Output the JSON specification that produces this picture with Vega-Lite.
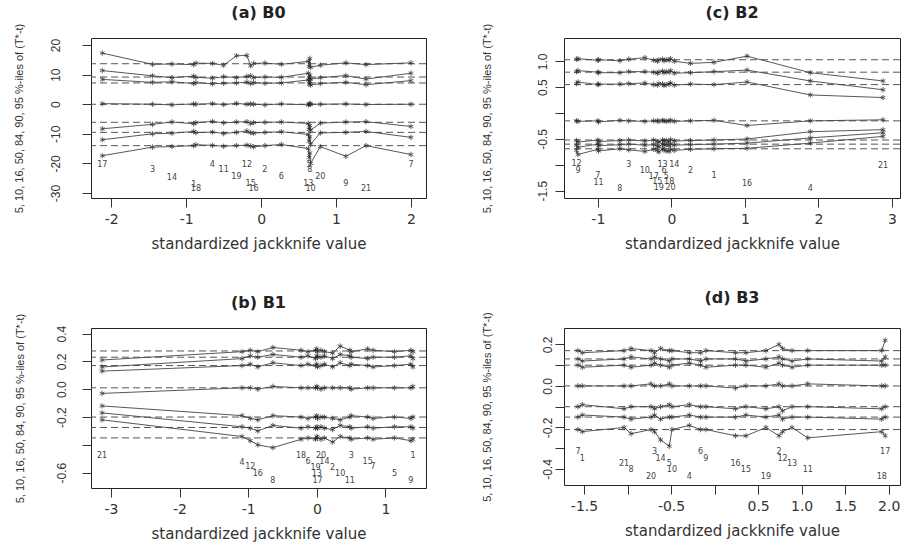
{
  "$schema": "https://vega.github.io/schema/vega-lite/v6.json",
  "background": "white",
  "padding": {"left": 12, "top": 4, "right": 0, "bottom": 0},
  "columns": 2,
  "spacing": {"row": 37, "column": 53},
  "concat": [
    {
      "width": 335, "height": 160,
      "title": {"text": "(a) B0"},
      "data": {"values": [
        {"id":"17","x":-2.12,"ly":-20.6,"q05":-17.4,"q10":-12.0,"q16":-8.3,"q50":0.2,"q84":8.4,"q90":11.4,"q95":17.3},
        {"id":"3","x":-1.45,"ly":-22.3,"q05":-14.5,"q10":-10.0,"q16":-6.8,"q50":0.0,"q84":7.4,"q90":9.6,"q95":13.5},
        {"id":"14","x":-1.19,"ly":-24.8,"q05":-14.3,"q10":-9.8,"q16":-6.0,"q50":-0.2,"q84":7.6,"q90":9.0,"q95":13.6},
        {"id":"1","x":-0.90,"ly":-27.2,"q05":-14.0,"q10":-9.2,"q16":-6.6,"q50":0.1,"q84":7.0,"q90":9.5,"q95":13.4},
        {"id":"18","x":-0.87,"ly":-28.8,"q05":-13.7,"q10":-9.6,"q16":-6.2,"q50":0.0,"q84":7.3,"q90":9.1,"q95":13.9},
        {"id":"4","x":-0.65,"ly":-20.5,"q05":-13.9,"q10":-9.4,"q16":-5.8,"q50":0.2,"q84":6.9,"q90":8.8,"q95":13.8},
        {"id":"11","x":-0.50,"ly":-22.3,"q05":-14.2,"q10":-9.9,"q16":-6.3,"q50":-0.1,"q84":7.1,"q90":9.3,"q95":13.2},
        {"id":"19","x":-0.33,"ly":-24.5,"q05":-14.0,"q10":-9.5,"q16":-6.0,"q50":0.3,"q84":7.2,"q90":9.0,"q95":16.4},
        {"id":"12","x":-0.19,"ly":-20.6,"q05":-13.8,"q10":-9.0,"q16":-5.9,"q50":0.0,"q84":7.5,"q90":9.4,"q95":16.5},
        {"id":"15","x":-0.14,"ly":-26.8,"q05":-14.1,"q10":-9.6,"q16":-6.5,"q50":0.1,"q84":7.0,"q90":9.6,"q95":13.0},
        {"id":"16","x":-0.10,"ly":-28.8,"q05":-14.4,"q10":-9.8,"q16":-6.2,"q50":0.0,"q84":7.3,"q90":9.0,"q95":13.8},
        {"id":"2","x":0.05,"ly":-22.3,"q05":-14.0,"q10":-9.5,"q16":-6.1,"q50":-0.2,"q84":7.1,"q90":9.2,"q95":13.9},
        {"id":"6","x":0.27,"ly":-24.6,"q05":-13.6,"q10":-9.3,"q16":-6.0,"q50":0.1,"q84":7.2,"q90":9.1,"q95":13.5},
        {"id":"13","x":0.63,"ly":-26.8,"q05":-15.0,"q10":-10.2,"q16":-6.5,"q50":-0.2,"q84":8.2,"q90":10.5,"q95":14.5},
        {"id":"5","x":0.64,"ly":-20.5,"q05":-18.0,"q10":-12.5,"q16":-8.5,"q50":0.0,"q84":6.8,"q90":8.8,"q95":12.8},
        {"id":"8","x":0.65,"ly":-22.3,"q05":-16.5,"q10":-11.0,"q16":-7.2,"q50":0.2,"q84":7.8,"q90":9.9,"q95":15.5},
        {"id":"10","x":0.66,"ly":-28.8,"q05":-20.0,"q10":-13.5,"q16":-8.8,"q50":0.0,"q84":6.5,"q90":8.5,"q95":12.5},
        {"id":"20","x":0.79,"ly":-24.6,"q05":-14.3,"q10":-9.7,"q16":-6.4,"q50":0.0,"q84":7.0,"q90":9.0,"q95":13.2},
        {"id":"9","x":1.13,"ly":-26.8,"q05":-17.6,"q10":-9.5,"q16":-6.0,"q50":0.1,"q84":7.4,"q90":9.7,"q95":14.0},
        {"id":"21","x":1.40,"ly":-28.8,"q05":-14.0,"q10":-9.2,"q16":-5.9,"q50":-0.1,"q84":6.6,"q90":8.5,"q95":13.4},
        {"id":"7","x":2.00,"ly":-20.5,"q05":-17.0,"q10":-11.2,"q16":-7.5,"q50":0.0,"q84":8.0,"q90":10.5,"q95":14.0}
      ]},
      "layer": [
        {
          "data": {"values": [{"lv":13.7},{"lv":9.2},{"lv":7.2},{"lv":0},{"lv":-6.1},{"lv":-9.5},{"lv":-14.0}]},
          "mark": {"type": "rule", "strokeDash": [7, 4], "color": "#555", "strokeWidth": 1},
          "encoding": {"y": {"field": "lv", "type": "quantitative", "title": "5, 10, 16, 50, 84, 90, 95 %-iles of (T*-t)", "scale": {"domain": [-31.7, 22.4], "nice": false, "zero": false}, "axis": {"values": [-30,-20,-10,0,10,20], "format": "d", "labelExpr": "replace(datum.label,'−','-')", "labelAngle": -90, "labelAlign": "center", "labelBaseline": "bottom", "labelOverlap": false, "labelPadding": 20, "titlePadding": 25}}}
        },
        {
          "transform": [{"fold": ["q05","q10","q16","q50","q84","q90","q95"], "as": ["pct","val"]}],
          "mark": {"type": "line", "color": "#444", "strokeWidth": 0.9},
          "encoding": {
            "x": {"field": "x", "type": "quantitative", "title": "standardized jackknife value", "scale": {"domain": [-2.27, 2.2], "nice": false, "zero": false}, "axis": {"values": [-2,-1,0,1,2], "format": "d", "labelExpr": "replace(datum.label,'−','-')"}},
            "y": {"field": "val", "type": "quantitative", "title": "5, 10, 16, 50, 84, 90, 95 %-iles of (T*-t)", "scale": {"domain": [-31.7, 22.4], "nice": false, "zero": false}, "axis": {"values": [-30,-20,-10,0,10,20], "format": "d", "labelExpr": "replace(datum.label,'−','-')", "labelAngle": -90, "labelAlign": "center", "labelBaseline": "bottom", "labelOverlap": false, "labelPadding": 20, "titlePadding": 25}},
            "detail": {"field": "pct"}
          }
        },
        {
          "transform": [{"fold": ["q05","q10","q16","q50","q84","q90","q95"], "as": ["pct","val"]}],
          "mark": {"type": "point", "shape": "M0,-1L0,1M-0.87,-0.5L0.87,0.5M-0.87,0.5L0.87,-0.5", "filled": false, "size": 30, "strokeWidth": 1, "color": "#222"},
          "encoding": {
            "x": {"field": "x", "type": "quantitative", "title": "standardized jackknife value", "scale": {"domain": [-2.27, 2.2], "nice": false, "zero": false}, "axis": {"values": [-2,-1,0,1,2], "format": "d", "labelExpr": "replace(datum.label,'−','-')"}},
            "y": {"field": "val", "type": "quantitative", "title": "5, 10, 16, 50, 84, 90, 95 %-iles of (T*-t)", "scale": {"domain": [-31.7, 22.4], "nice": false, "zero": false}, "axis": {"values": [-30,-20,-10,0,10,20], "format": "d", "labelExpr": "replace(datum.label,'−','-')", "labelAngle": -90, "labelAlign": "center", "labelBaseline": "bottom", "labelOverlap": false, "labelPadding": 20, "titlePadding": 25}}
          }
        },
        {
          "mark": {"type": "text", "font": "DejaVu Sans", "fontSize": 8, "color": "#444"},
          "encoding": {
            "x": {"field": "x", "type": "quantitative", "title": "standardized jackknife value", "scale": {"domain": [-2.27, 2.2], "nice": false, "zero": false}, "axis": {"values": [-2,-1,0,1,2], "format": "d", "labelExpr": "replace(datum.label,'−','-')"}},
            "y": {"field": "ly", "type": "quantitative", "title": "5, 10, 16, 50, 84, 90, 95 %-iles of (T*-t)", "scale": {"domain": [-31.7, 22.4], "nice": false, "zero": false}, "axis": {"values": [-30,-20,-10,0,10,20], "format": "d", "labelExpr": "replace(datum.label,'−','-')", "labelAngle": -90, "labelAlign": "center", "labelBaseline": "bottom", "labelOverlap": false, "labelPadding": 20, "titlePadding": 25}},
            "text": {"field": "id"}
          }
        }
      ]
    },
    {
      "width": 336, "height": 160,
      "title": {"text": "(c) B2"},
      "data": {"values": [
        {"id":"12","x":-1.29,"ly":-0.98,"q05":-0.72,"q10":-0.62,"q16":-0.53,"q50":-0.15,"q84":0.57,"q90":0.80,"q95":1.04},
        {"id":"9","x":-1.27,"ly":-1.12,"q05":-0.80,"q10":-0.66,"q16":-0.56,"q50":-0.16,"q84":0.60,"q90":0.82,"q95":1.05},
        {"id":"7","x":-1.00,"ly":-1.22,"q05":-0.70,"q10":-0.60,"q16":-0.52,"q50":-0.15,"q84":0.55,"q90":0.79,"q95":1.02},
        {"id":"11","x":-0.99,"ly":-1.35,"q05":-0.73,"q10":-0.63,"q16":-0.55,"q50":-0.17,"q84":0.56,"q90":0.78,"q95":1.03},
        {"id":"8","x":-0.70,"ly":-1.46,"q05":-0.69,"q10":-0.61,"q16":-0.53,"q50":-0.14,"q84":0.56,"q90":0.78,"q95":1.01},
        {"id":"3","x":-0.58,"ly":-1.00,"q05":-0.71,"q10":-0.60,"q16":-0.52,"q50":-0.15,"q84":0.57,"q90":0.80,"q95":1.04},
        {"id":"10","x":-0.36,"ly":-1.12,"q05":-0.74,"q10":-0.62,"q16":-0.54,"q50":-0.16,"q84":0.58,"q90":0.80,"q95":1.07},
        {"id":"17","x":-0.24,"ly":-1.23,"q05":-0.70,"q10":-0.61,"q16":-0.52,"q50":-0.15,"q84":0.55,"q90":0.79,"q95":1.02},
        {"id":"15","x":-0.19,"ly":-1.34,"q05":-0.72,"q10":-0.64,"q16":-0.55,"q50":-0.15,"q84":0.54,"q90":0.77,"q95":1.00},
        {"id":"19","x":-0.17,"ly":-1.45,"q05":-0.75,"q10":-0.65,"q16":-0.56,"q50":-0.16,"q84":0.57,"q90":0.79,"q95":1.03},
        {"id":"13","x":-0.12,"ly":-1.00,"q05":-0.69,"q10":-0.60,"q16":-0.52,"q50":-0.14,"q84":0.56,"q90":0.81,"q95":1.04},
        {"id":"6","x":-0.10,"ly":-1.12,"q05":-0.71,"q10":-0.62,"q16":-0.54,"q50":-0.15,"q84":0.53,"q90":0.78,"q95":1.01},
        {"id":"5","x":-0.07,"ly":-1.23,"q05":-0.73,"q10":-0.61,"q16":-0.53,"q50":-0.16,"q84":0.55,"q90":0.80,"q95":1.03},
        {"id":"18","x":-0.03,"ly":-1.34,"q05":-0.74,"q10":-0.63,"q16":-0.55,"q50":-0.15,"q84":0.56,"q90":0.79,"q95":1.02},
        {"id":"20","x":-0.01,"ly":-1.45,"q05":-0.70,"q10":-0.60,"q16":-0.51,"q50":-0.14,"q84":0.58,"q90":0.82,"q95":1.05},
        {"id":"14","x":0.04,"ly":-1.00,"q05":-0.72,"q10":-0.62,"q16":-0.54,"q50":-0.16,"q84":0.54,"q90":0.77,"q95":1.00},
        {"id":"2","x":0.26,"ly":-1.11,"q05":-0.70,"q10":-0.61,"q16":-0.53,"q50":-0.15,"q84":0.56,"q90":0.78,"q95":0.96},
        {"id":"1","x":0.58,"ly":-1.22,"q05":-0.69,"q10":-0.60,"q16":-0.52,"q50":-0.14,"q84":0.55,"q90":0.80,"q95":0.98},
        {"id":"16","x":1.03,"ly":-1.36,"q05":-0.68,"q10":-0.58,"q16":-0.50,"q50":-0.24,"q84":0.60,"q90":0.83,"q95":1.10},
        {"id":"4","x":1.89,"ly":-1.47,"q05":-0.58,"q10":-0.48,"q16":-0.36,"q50":-0.15,"q84":0.35,"q90":0.62,"q95":0.78},
        {"id":"21","x":2.88,"ly":-1.02,"q05":-0.45,"q10":-0.38,"q16":-0.32,"q50":-0.13,"q84":0.30,"q90":0.45,"q95":0.62}
      ]},
      "layer": [
        {
          "data": {"values": [{"lv":1.03},{"lv":0.79},{"lv":0.55},{"lv":-0.15},{"lv":-0.52},{"lv":-0.60},{"lv":-0.69}]},
          "mark": {"type": "rule", "strokeDash": [7, 4], "color": "#555", "strokeWidth": 1},
          "encoding": {"y": {"field": "lv", "type": "quantitative", "title": "5, 10, 16, 50, 84, 90, 95 %-iles of (T*-t)", "scale": {"domain": [-1.64, 1.45], "nice": false, "zero": false}, "axis": {"values": [-1.5,-1,-0.5,0,0.5,1], "format": ".1f", "labelExpr": "datum.value == 0 || datum.value == -1 ? '' : replace(datum.label,'−','-')", "labelAngle": -90, "labelAlign": "center", "labelBaseline": "bottom", "labelOverlap": false, "labelPadding": 6, "titlePadding": 44}}}
        },
        {
          "transform": [{"fold": ["q05","q10","q16","q50","q84","q90","q95"], "as": ["pct","val"]}],
          "mark": {"type": "line", "color": "#444", "strokeWidth": 0.9},
          "encoding": {
            "x": {"field": "x", "type": "quantitative", "title": "standardized jackknife value", "scale": {"domain": [-1.46, 3.11], "nice": false, "zero": false}, "axis": {"values": [-1,0,1,2,3], "format": "d", "labelExpr": "replace(datum.label,'−','-')"}},
            "y": {"field": "val", "type": "quantitative", "title": "5, 10, 16, 50, 84, 90, 95 %-iles of (T*-t)", "scale": {"domain": [-1.64, 1.45], "nice": false, "zero": false}, "axis": {"values": [-1.5,-1,-0.5,0,0.5,1], "format": ".1f", "labelExpr": "datum.value == 0 || datum.value == -1 ? '' : replace(datum.label,'−','-')", "labelAngle": -90, "labelAlign": "center", "labelBaseline": "bottom", "labelOverlap": false, "labelPadding": 6, "titlePadding": 44}},
            "detail": {"field": "pct"}
          }
        },
        {
          "transform": [{"fold": ["q05","q10","q16","q50","q84","q90","q95"], "as": ["pct","val"]}],
          "mark": {"type": "point", "shape": "M0,-1L0,1M-0.87,-0.5L0.87,0.5M-0.87,0.5L0.87,-0.5", "filled": false, "size": 30, "strokeWidth": 1, "color": "#222"},
          "encoding": {
            "x": {"field": "x", "type": "quantitative", "title": "standardized jackknife value", "scale": {"domain": [-1.46, 3.11], "nice": false, "zero": false}, "axis": {"values": [-1,0,1,2,3], "format": "d", "labelExpr": "replace(datum.label,'−','-')"}},
            "y": {"field": "val", "type": "quantitative", "title": "5, 10, 16, 50, 84, 90, 95 %-iles of (T*-t)", "scale": {"domain": [-1.64, 1.45], "nice": false, "zero": false}, "axis": {"values": [-1.5,-1,-0.5,0,0.5,1], "format": ".1f", "labelExpr": "datum.value == 0 || datum.value == -1 ? '' : replace(datum.label,'−','-')", "labelAngle": -90, "labelAlign": "center", "labelBaseline": "bottom", "labelOverlap": false, "labelPadding": 6, "titlePadding": 44}}
          }
        },
        {
          "mark": {"type": "text", "font": "DejaVu Sans", "fontSize": 8, "color": "#444"},
          "encoding": {
            "x": {"field": "x", "type": "quantitative", "title": "standardized jackknife value", "scale": {"domain": [-1.46, 3.11], "nice": false, "zero": false}, "axis": {"values": [-1,0,1,2,3], "format": "d", "labelExpr": "replace(datum.label,'−','-')"}},
            "y": {"field": "ly", "type": "quantitative", "title": "5, 10, 16, 50, 84, 90, 95 %-iles of (T*-t)", "scale": {"domain": [-1.64, 1.45], "nice": false, "zero": false}, "axis": {"values": [-1.5,-1,-0.5,0,0.5,1], "format": ".1f", "labelExpr": "datum.value == 0 || datum.value == -1 ? '' : replace(datum.label,'−','-')", "labelAngle": -90, "labelAlign": "center", "labelBaseline": "bottom", "labelOverlap": false, "labelPadding": 6, "titlePadding": 44}},
            "text": {"field": "id"}
          }
        }
      ]
    },
    {
      "width": 335, "height": 160,
      "title": {"text": "(b) B1"},
      "data": {"values": [
        {"id":"21","x":-3.13,"ly":-0.483,"q05":-0.22,"q10":-0.17,"q16":-0.12,"q50":-0.03,"q84":0.13,"q90":0.16,"q95":0.21},
        {"id":"4","x":-1.09,"ly":-0.533,"q05":-0.34,"q10":-0.27,"q16":-0.19,"q50":0.01,"q84":0.17,"q90":0.22,"q95":0.27},
        {"id":"12","x":-0.97,"ly":-0.562,"q05":-0.37,"q10":-0.28,"q16":-0.21,"q50":0.01,"q84":0.18,"q90":0.24,"q95":0.28},
        {"id":"16","x":-0.86,"ly":-0.61,"q05":-0.40,"q10":-0.30,"q16":-0.22,"q50":0.00,"q84":0.16,"q90":0.23,"q95":0.27},
        {"id":"8","x":-0.64,"ly":-0.66,"q05":-0.42,"q10":-0.26,"q16":-0.19,"q50":0.02,"q84":0.19,"q90":0.25,"q95":0.30},
        {"id":"18","x":-0.23,"ly":-0.483,"q05":-0.36,"q10":-0.28,"q16":-0.20,"q50":0.01,"q84":0.17,"q90":0.23,"q95":0.28},
        {"id":"6","x":-0.13,"ly":-0.526,"q05":-0.35,"q10":-0.27,"q16":-0.21,"q50":0.01,"q84":0.18,"q90":0.24,"q95":0.27},
        {"id":"19","x":-0.02,"ly":-0.566,"q05":-0.36,"q10":-0.28,"q16":-0.20,"q50":0.01,"q84":0.17,"q90":0.22,"q95":0.28},
        {"id":"13","x":0.00,"ly":-0.61,"q05":-0.34,"q10":-0.27,"q16":-0.19,"q50":0.02,"q84":0.18,"q90":0.24,"q95":0.29},
        {"id":"17","x":0.01,"ly":-0.66,"q05":-0.35,"q10":-0.28,"q16":-0.21,"q50":0.01,"q84":0.16,"q90":0.23,"q95":0.27},
        {"id":"20","x":0.06,"ly":-0.483,"q05":-0.36,"q10":-0.27,"q16":-0.20,"q50":0.00,"q84":0.17,"q90":0.23,"q95":0.28},
        {"id":"14","x":0.11,"ly":-0.526,"q05":-0.35,"q10":-0.28,"q16":-0.20,"q50":0.01,"q84":0.18,"q90":0.24,"q95":0.27},
        {"id":"2","x":0.23,"ly":-0.566,"q05":-0.38,"q10":-0.29,"q16":-0.21,"q50":0.01,"q84":0.16,"q90":0.22,"q95":0.26},
        {"id":"10","x":0.34,"ly":-0.61,"q05":-0.34,"q10":-0.26,"q16":-0.22,"q50":0.01,"q84":0.19,"q90":0.25,"q95":0.31},
        {"id":"11","x":0.48,"ly":-0.66,"q05":-0.35,"q10":-0.27,"q16":-0.20,"q50":0.01,"q84":0.17,"q90":0.24,"q95":0.28},
        {"id":"3","x":0.50,"ly":-0.483,"q05":-0.36,"q10":-0.28,"q16":-0.19,"q50":0.00,"q84":0.18,"q90":0.23,"q95":0.27},
        {"id":"15","x":0.74,"ly":-0.526,"q05":-0.35,"q10":-0.27,"q16":-0.20,"q50":0.01,"q84":0.17,"q90":0.22,"q95":0.29},
        {"id":"7","x":0.82,"ly":-0.562,"q05":-0.36,"q10":-0.28,"q16":-0.21,"q50":0.01,"q84":0.16,"q90":0.23,"q95":0.28},
        {"id":"5","x":1.13,"ly":-0.61,"q05":-0.35,"q10":-0.27,"q16":-0.20,"q50":0.01,"q84":0.17,"q90":0.23,"q95":0.27},
        {"id":"9","x":1.37,"ly":-0.66,"q05":-0.37,"q10":-0.27,"q16":-0.21,"q50":0.01,"q84":0.18,"q90":0.24,"q95":0.28},
        {"id":"1","x":1.40,"ly":-0.483,"q05":-0.36,"q10":-0.28,"q16":-0.20,"q50":0.02,"q84":0.16,"q90":0.22,"q95":0.27}
      ]},
      "layer": [
        {
          "data": {"values": [{"lv":0.275},{"lv":0.23},{"lv":0.17},{"lv":0.01},{"lv":-0.20},{"lv":-0.275},{"lv":-0.35}]},
          "mark": {"type": "rule", "strokeDash": [7, 4], "color": "#555", "strokeWidth": 1},
          "encoding": {"y": {"field": "lv", "type": "quantitative", "title": "5, 10, 16, 50, 84, 90, 95 %-iles of (T*-t)", "scale": {"domain": [-0.71, 0.44], "nice": false, "zero": false}, "axis": {"values": [-0.6,-0.4,-0.2,0,0.2,0.4], "format": ".1f", "labelExpr": "datum.value == -0.4 ? '' : replace(datum.label,'−','-')", "labelAngle": -90, "labelAlign": "center", "labelBaseline": "bottom", "labelOverlap": false, "labelPadding": 14, "titlePadding": 30}}}
        },
        {
          "transform": [{"fold": ["q05","q10","q16","q50","q84","q90","q95"], "as": ["pct","val"]}],
          "mark": {"type": "line", "color": "#444", "strokeWidth": 0.9},
          "encoding": {
            "x": {"field": "x", "type": "quantitative", "title": "standardized jackknife value", "scale": {"domain": [-3.29, 1.59], "nice": false, "zero": false}, "axis": {"values": [-3,-2,-1,0,1], "format": "d", "labelExpr": "replace(datum.label,'−','-')"}},
            "y": {"field": "val", "type": "quantitative", "title": "5, 10, 16, 50, 84, 90, 95 %-iles of (T*-t)", "scale": {"domain": [-0.71, 0.44], "nice": false, "zero": false}, "axis": {"values": [-0.6,-0.4,-0.2,0,0.2,0.4], "format": ".1f", "labelExpr": "datum.value == -0.4 ? '' : replace(datum.label,'−','-')", "labelAngle": -90, "labelAlign": "center", "labelBaseline": "bottom", "labelOverlap": false, "labelPadding": 14, "titlePadding": 30}},
            "detail": {"field": "pct"}
          }
        },
        {
          "transform": [{"fold": ["q05","q10","q16","q50","q84","q90","q95"], "as": ["pct","val"]}],
          "mark": {"type": "point", "shape": "M0,-1L0,1M-0.87,-0.5L0.87,0.5M-0.87,0.5L0.87,-0.5", "filled": false, "size": 30, "strokeWidth": 1, "color": "#222"},
          "encoding": {
            "x": {"field": "x", "type": "quantitative", "title": "standardized jackknife value", "scale": {"domain": [-3.29, 1.59], "nice": false, "zero": false}, "axis": {"values": [-3,-2,-1,0,1], "format": "d", "labelExpr": "replace(datum.label,'−','-')"}},
            "y": {"field": "val", "type": "quantitative", "title": "5, 10, 16, 50, 84, 90, 95 %-iles of (T*-t)", "scale": {"domain": [-0.71, 0.44], "nice": false, "zero": false}, "axis": {"values": [-0.6,-0.4,-0.2,0,0.2,0.4], "format": ".1f", "labelExpr": "datum.value == -0.4 ? '' : replace(datum.label,'−','-')", "labelAngle": -90, "labelAlign": "center", "labelBaseline": "bottom", "labelOverlap": false, "labelPadding": 14, "titlePadding": 30}}
          }
        },
        {
          "mark": {"type": "text", "font": "DejaVu Sans", "fontSize": 8, "color": "#444"},
          "encoding": {
            "x": {"field": "x", "type": "quantitative", "title": "standardized jackknife value", "scale": {"domain": [-3.29, 1.59], "nice": false, "zero": false}, "axis": {"values": [-3,-2,-1,0,1], "format": "d", "labelExpr": "replace(datum.label,'−','-')"}},
            "y": {"field": "ly", "type": "quantitative", "title": "5, 10, 16, 50, 84, 90, 95 %-iles of (T*-t)", "scale": {"domain": [-0.71, 0.44], "nice": false, "zero": false}, "axis": {"values": [-0.6,-0.4,-0.2,0,0.2,0.4], "format": ".1f", "labelExpr": "datum.value == -0.4 ? '' : replace(datum.label,'−','-')", "labelAngle": -90, "labelAlign": "center", "labelBaseline": "bottom", "labelOverlap": false, "labelPadding": 14, "titlePadding": 30}},
            "text": {"field": "id"}
          }
        }
      ]
    },
    {
      "width": 336, "height": 157,
      "title": {"text": "(d) B3", "offset": 6},
      "data": {"values": [
        {"id":"7","x":-1.57,"ly":-0.317,"q05":-0.21,"q10":-0.15,"q16":-0.10,"q50":0.0,"q84":0.10,"q90":0.13,"q95":0.17},
        {"id":"1","x":-1.52,"ly":-0.35,"q05":-0.22,"q10":-0.14,"q16":-0.09,"q50":0.0,"q84":0.09,"q90":0.12,"q95":0.16},
        {"id":"21","x":-1.04,"ly":-0.377,"q05":-0.20,"q10":-0.15,"q16":-0.11,"q50":0.0,"q84":0.10,"q90":0.13,"q95":0.17},
        {"id":"8","x":-0.96,"ly":-0.406,"q05":-0.23,"q10":-0.16,"q16":-0.10,"q50":0.0,"q84":0.09,"q90":0.14,"q95":0.18},
        {"id":"20","x":-0.73,"ly":-0.44,"q05":-0.21,"q10":-0.15,"q16":-0.10,"q50":0.01,"q84":0.10,"q90":0.13,"q95":0.17},
        {"id":"3","x":-0.69,"ly":-0.317,"q05":-0.22,"q10":-0.14,"q16":-0.11,"q50":0.0,"q84":0.11,"q90":0.14,"q95":0.16},
        {"id":"14","x":-0.62,"ly":-0.35,"q05":-0.26,"q10":-0.16,"q16":-0.10,"q50":0.0,"q84":0.10,"q90":0.13,"q95":0.18},
        {"id":"5","x":-0.52,"ly":-0.374,"q05":-0.29,"q10":-0.15,"q16":-0.09,"q50":0.01,"q84":0.09,"q90":0.12,"q95":0.17},
        {"id":"10","x":-0.49,"ly":-0.406,"q05":-0.21,"q10":-0.15,"q16":-0.10,"q50":0.0,"q84":0.10,"q90":0.13,"q95":0.17},
        {"id":"4","x":-0.29,"ly":-0.44,"q05":-0.19,"q10":-0.14,"q16":-0.09,"q50":0.0,"q84":0.11,"q90":0.13,"q95":0.16},
        {"id":"6","x":-0.16,"ly":-0.317,"q05":-0.21,"q10":-0.15,"q16":-0.10,"q50":0.0,"q84":0.10,"q90":0.12,"q95":0.16},
        {"id":"9","x":-0.10,"ly":-0.35,"q05":-0.21,"q10":-0.15,"q16":-0.10,"q50":0.0,"q84":0.09,"q90":0.13,"q95":0.17},
        {"id":"16","x":0.24,"ly":-0.374,"q05":-0.24,"q10":-0.15,"q16":-0.11,"q50":-0.01,"q84":0.10,"q90":0.13,"q95":0.16},
        {"id":"15","x":0.36,"ly":-0.406,"q05":-0.24,"q10":-0.14,"q16":-0.10,"q50":0.0,"q84":0.10,"q90":0.12,"q95":0.16},
        {"id":"19","x":0.59,"ly":-0.44,"q05":-0.20,"q10":-0.15,"q16":-0.11,"q50":0.0,"q84":0.09,"q90":0.13,"q95":0.17},
        {"id":"2","x":0.74,"ly":-0.317,"q05":-0.24,"q10":-0.14,"q16":-0.10,"q50":0.01,"q84":0.11,"q90":0.14,"q95":0.20},
        {"id":"12","x":0.78,"ly":-0.35,"q05":-0.22,"q10":-0.16,"q16":-0.12,"q50":0.0,"q84":0.10,"q90":0.13,"q95":0.18},
        {"id":"13","x":0.89,"ly":-0.377,"q05":-0.20,"q10":-0.15,"q16":-0.10,"q50":0.0,"q84":0.09,"q90":0.12,"q95":0.17},
        {"id":"11","x":1.07,"ly":-0.406,"q05":-0.25,"q10":-0.15,"q16":-0.10,"q50":0.01,"q84":0.10,"q90":0.13,"q95":0.17},
        {"id":"18","x":1.92,"ly":-0.44,"q05":-0.22,"q10":-0.16,"q16":-0.11,"q50":0.0,"q84":0.10,"q90":0.12,"q95":0.17},
        {"id":"17","x":1.96,"ly":-0.317,"q05":-0.24,"q10":-0.15,"q16":-0.10,"q50":0.0,"q84":0.10,"q90":0.14,"q95":0.22}
      ]},
      "layer": [
        {
          "data": {"values": [{"lv":0.17},{"lv":0.13},{"lv":0.10},{"lv":0.0},{"lv":-0.10},{"lv":-0.15},{"lv":-0.21}]},
          "mark": {"type": "rule", "strokeDash": [7, 4], "color": "#555", "strokeWidth": 1},
          "encoding": {"y": {"field": "lv", "type": "quantitative", "title": "5, 10, 16, 50, 84, 90, 95 %-iles of (T*-t)", "scale": {"domain": [-0.477, 0.279], "nice": false, "zero": false}, "axis": {"values": [-0.4,-0.3,-0.2,-0.1,0,0.1,0.2], "format": ".1f", "labelExpr": "abs(round(datum.value*10)) % 2 == 1 ? '' : replace(datum.label,'−','-')", "labelAngle": -90, "labelAlign": "center", "labelBaseline": "bottom", "labelOverlap": false, "labelPadding": 1, "titlePadding": 49}}}
        },
        {
          "transform": [{"fold": ["q05","q10","q16","q50","q84","q90","q95"], "as": ["pct","val"]}],
          "mark": {"type": "line", "color": "#444", "strokeWidth": 0.9},
          "encoding": {
            "x": {"field": "x", "type": "quantitative", "title": "standardized jackknife value", "scale": {"domain": [-1.73, 2.13], "nice": false, "zero": false}, "axis": {"values": [-1.5,-1,-0.5,0,0.5,1,1.5,2], "format": ".1f", "labelExpr": "datum.value == 0 || datum.value == -1 ? '' : replace(datum.label,'−','-')"}},
            "y": {"field": "val", "type": "quantitative", "title": "5, 10, 16, 50, 84, 90, 95 %-iles of (T*-t)", "scale": {"domain": [-0.477, 0.279], "nice": false, "zero": false}, "axis": {"values": [-0.4,-0.3,-0.2,-0.1,0,0.1,0.2], "format": ".1f", "labelExpr": "abs(round(datum.value*10)) % 2 == 1 ? '' : replace(datum.label,'−','-')", "labelAngle": -90, "labelAlign": "center", "labelBaseline": "bottom", "labelOverlap": false, "labelPadding": 1, "titlePadding": 49}},
            "detail": {"field": "pct"}
          }
        },
        {
          "transform": [{"fold": ["q05","q10","q16","q50","q84","q90","q95"], "as": ["pct","val"]}],
          "mark": {"type": "point", "shape": "M0,-1L0,1M-0.87,-0.5L0.87,0.5M-0.87,0.5L0.87,-0.5", "filled": false, "size": 30, "strokeWidth": 1, "color": "#222"},
          "encoding": {
            "x": {"field": "x", "type": "quantitative", "title": "standardized jackknife value", "scale": {"domain": [-1.73, 2.13], "nice": false, "zero": false}, "axis": {"values": [-1.5,-1,-0.5,0,0.5,1,1.5,2], "format": ".1f", "labelExpr": "datum.value == 0 || datum.value == -1 ? '' : replace(datum.label,'−','-')"}},
            "y": {"field": "val", "type": "quantitative", "title": "5, 10, 16, 50, 84, 90, 95 %-iles of (T*-t)", "scale": {"domain": [-0.477, 0.279], "nice": false, "zero": false}, "axis": {"values": [-0.4,-0.3,-0.2,-0.1,0,0.1,0.2], "format": ".1f", "labelExpr": "abs(round(datum.value*10)) % 2 == 1 ? '' : replace(datum.label,'−','-')", "labelAngle": -90, "labelAlign": "center", "labelBaseline": "bottom", "labelOverlap": false, "labelPadding": 1, "titlePadding": 49}}
          }
        },
        {
          "mark": {"type": "text", "font": "DejaVu Sans", "fontSize": 8, "color": "#444"},
          "encoding": {
            "x": {"field": "x", "type": "quantitative", "title": "standardized jackknife value", "scale": {"domain": [-1.73, 2.13], "nice": false, "zero": false}, "axis": {"values": [-1.5,-1,-0.5,0,0.5,1,1.5,2], "format": ".1f", "labelExpr": "datum.value == 0 || datum.value == -1 ? '' : replace(datum.label,'−','-')"}},
            "y": {"field": "ly", "type": "quantitative", "title": "5, 10, 16, 50, 84, 90, 95 %-iles of (T*-t)", "scale": {"domain": [-0.477, 0.279], "nice": false, "zero": false}, "axis": {"values": [-0.4,-0.3,-0.2,-0.1,0,0.1,0.2], "format": ".1f", "labelExpr": "abs(round(datum.value*10)) % 2 == 1 ? '' : replace(datum.label,'−','-')", "labelAngle": -90, "labelAlign": "center", "labelBaseline": "bottom", "labelOverlap": false, "labelPadding": 1, "titlePadding": 49}},
            "text": {"field": "id"}
          }
        }
      ]
    }
  ],
  "config": {
    "view": {"stroke": "#222", "strokeWidth": 1},
    "axis": {"grid": false, "domain": false, "ticks": true, "tickColor": "#333", "tickSize": 9, "labelColor": "#333", "titleColor": "#333", "titleFontWeight": "normal"},
    "axisX": {"labelFont": "DejaVu Sans", "labelFontSize": 14, "titleFont": "DejaVu Sans", "titleFontSize": 15, "labelPadding": 5, "titlePadding": 10, "labelFlush": false, "labelOverlap": false},
    "axisY": {"labelFont": "Liberation Sans", "labelFontSize": 12, "titleFont": "Liberation Sans", "titleFontSize": 11, "labelFlush": false},
    "axisLeft": {"labelAngle": -90, "labelOverlap": false},
    "title": {"font": "DejaVu Sans", "fontSize": 16, "fontWeight": "bold", "color": "#222", "frame": "group", "anchor": "middle", "offset": 2}
  }
}
